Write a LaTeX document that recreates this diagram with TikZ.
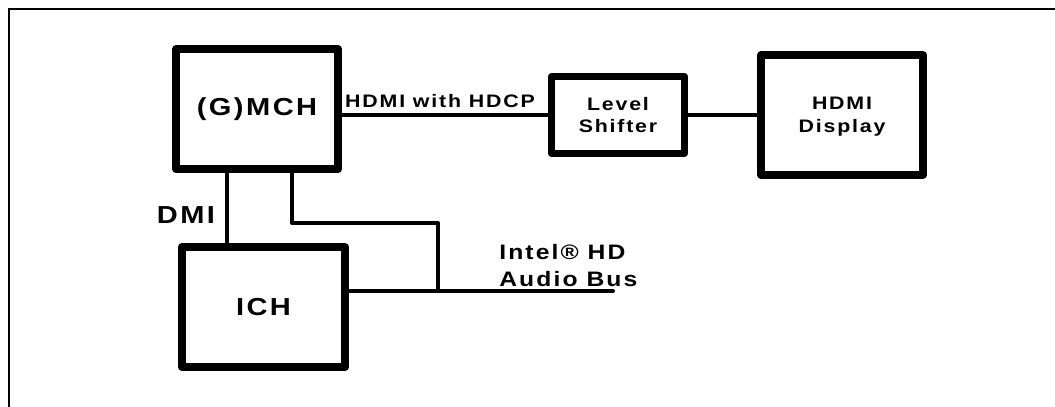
\documentclass[tikz,border=0pt]{standalone}
\usepackage{fontspec}
\setmainfont{Liberation Sans}[FakeStretch=1.18, LetterSpace=10]
\usetikzlibrary{calc}

\begin{document}
\begin{tikzpicture}[
	chip/.style={draw, line width=0.16cm, line join=round, inner sep=0pt, align=center,
		font=\bfseries\fontsize{14}{17}\selectfont},
	smallchip/.style={chip, line width=0.14cm, text depth=0pt, font=\bfseries\fontsize{10.3}{13}\selectfont},
	wire/.style={line width=0.08cm, line cap=round, line join=round},
	lbl/.style={inner sep=0pt, font=\bfseries\fontsize{10.3}{13}\selectfont},
	biglbl/.style={lbl, font=\bfseries\fontsize{14}{17}\selectfont},
	buslbl/.style={lbl, align=left, font=\bfseries\fontsize{11.9}{15.3}\selectfont}
]
	\useasboundingbox (0, 0) rectangle (21.1, 8.14);

	% frame
	\draw[line width=0.045cm] (0.18, 0) -- (0.18, 7.96) -- (21.2, 7.96);

	\node[chip, minimum width=3.24cm, minimum height=2.4cm] (gmch) at (5.14, 5.96) {(G)MCH};
	\node[chip, minimum width=3.26cm, minimum height=2.4cm] (ich) at (5.27, 2.0) {ICH};
	\node[smallchip, minimum width=2.66cm, minimum height=1.54cm] (ls) at (12.36, 5.84) {Level\\Shifter};
	\node[smallchip, line width=0.16cm, minimum width=3.24cm, minimum height=2.4cm, yshift=-0.04cm] (disp) at (16.84, 5.88) {HDMI\\Display};

	\coordinate (bend) at (8.76, 3.68);
	\coordinate (tap) at (8.76, 2.32);
	\coordinate (busend) at (12.26, 2.32);

	% links between the chips
	\draw[wire] (gmch.east |- ls.west) -- node[lbl, above=0.1cm, xshift=-0.1cm] {HDMI with HDCP} (ls.west);
	\draw[wire] (ls) -- (ls -| disp.west);
	\draw[wire] ([xshift=-0.6cm]gmch.south) -- node[biglbl, pos=0.6, left=0.2cm] {DMI} ([xshift=-0.6cm]gmch.south |- ich.north);
	\draw[wire] ([xshift=0.7cm]gmch.south) |- (bend) -- (tap);
	\draw[wire] (ich.east |- tap) -- (busend);

	\node[buslbl, anchor=south west] (bus) at (9.98, 2.4) {Intel® HD\\Audio Bus};
\end{tikzpicture}
\end{document}
